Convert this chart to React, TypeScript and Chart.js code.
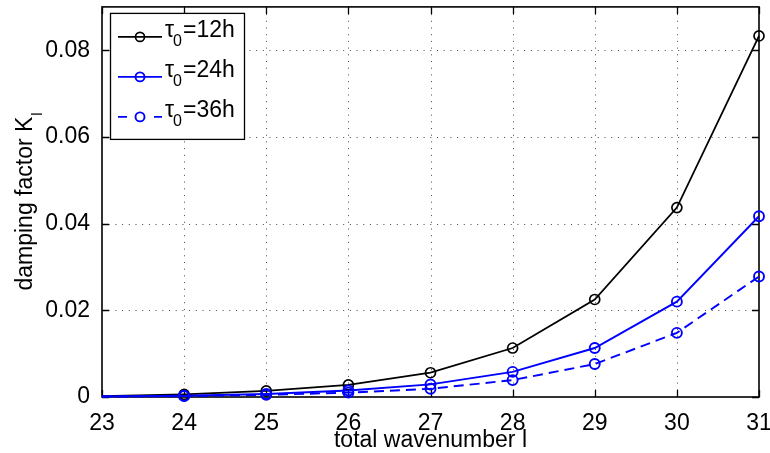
import { useEffect, useRef } from "react";
import { Chart, registerables } from "chart.js";

Chart.register(...registerables);

// Total wavenumber l and damping factor K_l for three relaxation times tau_0
const wavenumbers = [23, 24, 25, 26, 27, 28, 29, 30, 31];
const dampingTau12 = [0.0002, 0.0006, 0.0014, 0.0028, 0.0056, 0.0113, 0.0225, 0.0437, 0.0833];
const dampingTau24 = [0.0001, 0.0003, 0.0007, 0.0015, 0.0029, 0.0058, 0.0113, 0.022, 0.0417];
const dampingTau36 = [0.0001, 0.0002, 0.0005, 0.001, 0.0019, 0.0039, 0.0076, 0.0148, 0.0278];
const tauValues = ["12h", "24h", "36h"];

const xTickValues = [23, 24, 25, 26, 27, 28, 29, 30, 31];
const yTickValues = [0, 0.02, 0.04, 0.06, 0.08];
const xRange = [23, 31];
const yRange = [0, 0.09];

const xTitle = "total wavenumber l";
const yTitleMain = "damping factor K";
const yTitleSub = "l";

const FONT = '"Liberation Sans", Arial, Helvetica, sans-serif';
const FONT_SIZE = 23;
const BLUE = "#0000ff";

const toPoints = (ys: number[]) => wavenumbers.map((x, i) => ({ x, y: ys[i] }));

// Axes box, dotted grid and inward tick marks in the classic plotting style,
// plus the axis titles and a boxed legend with subscripted labels.
const framePlugin = {
  id: "frame",
  beforeDatasetsDraw(chart: any) {
    const { ctx, chartArea: a, scales } = chart;
    const xs = scales.x;
    const ys = scales.y;
    ctx.save();

    // dotted grid
    ctx.strokeStyle = "rgba(40,40,40,0.85)";
    ctx.lineWidth = 1;
    ctx.setLineDash([1, 5.7]);
    xTickValues.forEach((v) => {
      if (v === xRange[0] || v === xRange[1]) return;
      const px = Math.round(xs.getPixelForValue(v)) + 0.5;
      ctx.beginPath();
      ctx.moveTo(px, a.bottom);
      ctx.lineTo(px, a.top);
      ctx.stroke();
    });
    yTickValues.forEach((v) => {
      if (v === yRange[0] || v === yRange[1]) return;
      const py = Math.round(ys.getPixelForValue(v)) + 0.5;
      ctx.beginPath();
      ctx.moveTo(a.left, py);
      ctx.lineTo(a.right, py);
      ctx.stroke();
    });
    ctx.setLineDash([]);

    // inward ticks
    const tl = 7;
    ctx.strokeStyle = "#000";
    ctx.lineWidth = 1.3;
    xTickValues.forEach((v) => {
      const px = Math.round(xs.getPixelForValue(v)) + 0.5;
      ctx.beginPath();
      ctx.moveTo(px, a.bottom);
      ctx.lineTo(px, a.bottom - tl);
      ctx.moveTo(px, a.top);
      ctx.lineTo(px, a.top + tl);
      ctx.stroke();
    });
    yTickValues.forEach((v) => {
      const py = Math.round(ys.getPixelForValue(v)) + 0.5;
      ctx.beginPath();
      ctx.moveTo(a.left, py);
      ctx.lineTo(a.left + tl, py);
      ctx.moveTo(a.right, py);
      ctx.lineTo(a.right - tl, py);
      ctx.stroke();
    });

    // axes box
    ctx.lineWidth = 1.6;
    ctx.strokeRect(a.left, a.top, a.right - a.left, a.bottom - a.top);
    ctx.restore();
  },
  afterDraw(chart: any) {
    const { ctx, chartArea: a } = chart;
    ctx.save();
    ctx.fillStyle = "#000";

    // x title
    ctx.font = `${FONT_SIZE}px ${FONT}`;
    ctx.textAlign = "center";
    ctx.textBaseline = "alphabetic";
    ctx.fillText(xTitle, (a.left + a.right) / 2, 446.5);

    // y title, rotated, with subscript
    ctx.textAlign = "left";
    ctx.font = `${FONT_SIZE}px ${FONT}`;
    const wMain = ctx.measureText(yTitleMain).width;
    ctx.font = `15px ${FONT}`;
    const wSub = ctx.measureText(yTitleSub).width;
    ctx.save();
    ctx.translate(32, (a.top + a.bottom) / 2);
    ctx.rotate(-Math.PI / 2);
    const start = -(wMain + wSub) / 2;
    ctx.font = `${FONT_SIZE}px ${FONT}`;
    ctx.fillText(yTitleMain, start, 0);
    ctx.font = `15px ${FONT}`;
    ctx.fillText(yTitleSub, start + wMain + 1, 10);
    ctx.restore();

    // legend
    const bx = a.left + 8.5;
    const by = a.top + 6.5;
    const bw = 134;
    const bh = 126;
    ctx.fillStyle = "#fff";
    ctx.fillRect(bx, by, bw, bh);
    ctx.strokeStyle = "#000";
    ctx.lineWidth = 1.3;
    ctx.strokeRect(bx, by, bw, bh);

    chart.data.datasets.forEach((ds: any, i: number) => {
      const rowY = by + 23.5 + i * 40;
      const x0 = bx + 7.5;
      const x1 = x0 + 44;
      const xm = (x0 + x1) / 2;
      ctx.strokeStyle = ds.borderColor;
      ctx.lineWidth = ds.borderWidth;
      ctx.setLineDash([]);
      ctx.beginPath();
      if (ds.borderDash && ds.borderDash.length) {
        ctx.moveTo(x0, rowY);
        ctx.lineTo(x0 + 9, rowY);
        ctx.moveTo(x1 - 8, rowY);
        ctx.lineTo(x1, rowY);
      } else {
        ctx.moveTo(x0, rowY);
        ctx.lineTo(x1, rowY);
      }
      ctx.stroke();
      ctx.lineWidth = ds.pointBorderWidth;
      ctx.beginPath();
      ctx.arc(xm, rowY, 4.5, 0, Math.PI * 2);
      ctx.stroke();

      ctx.fillStyle = "#000";
      let tx = x1 + 3;
      ctx.font = `${FONT_SIZE}px ${FONT}`;
      ctx.fillText("τ", tx, rowY);
      tx += ctx.measureText("τ").width - 1;
      ctx.font = `16px ${FONT}`;
      ctx.fillText("0", tx, rowY + 9);
      tx += ctx.measureText("0").width + 1;
      ctx.font = `${FONT_SIZE}px ${FONT}`;
      ctx.fillText("=" + tauValues[i], tx, rowY);
    });
    ctx.restore();
  },
};

const pointRadius = (c: any) => (c.dataIndex === 0 ? 0 : 5);

export default function App() {
  const canvasRef = useRef<HTMLCanvasElement | null>(null);

  useEffect(() => {
    const canvas = canvasRef.current;
    if (!canvas) return;
    const chart = new Chart(canvas, {
      type: "line",
      data: {
        datasets: [
          {
            label: "τ0=" + tauValues[0],
            data: toPoints(dampingTau12),
            borderColor: "#000",
            borderWidth: 1.8,
            pointBorderColor: "#000",
            pointBackgroundColor: "rgba(0,0,0,0)",
            pointBorderWidth: 1.7,
            pointRadius,
            order: 3,
          },
          {
            label: "τ0=" + tauValues[1],
            data: toPoints(dampingTau24),
            borderColor: BLUE,
            borderWidth: 1.9,
            pointBorderColor: BLUE,
            pointBackgroundColor: "rgba(0,0,0,0)",
            pointBorderWidth: 1.9,
            pointRadius,
            order: 2,
          },
          {
            label: "τ0=" + tauValues[2],
            data: toPoints(dampingTau36),
            borderColor: BLUE,
            borderWidth: 1.9,
            borderDash: [10, 6],
            pointBorderColor: BLUE,
            pointBackgroundColor: "rgba(0,0,0,0)",
            pointBorderWidth: 1.9,
            pointRadius,
            order: 1,
          },
        ],
      },
      options: {
        responsive: false,
        maintainAspectRatio: false,
        animation: false,
        devicePixelRatio: 1,
        clip: false as any,
        elements: { line: { tension: 0 } },
        layout: { padding: { left: 0, right: 11, top: 3, bottom: 0 } },
        plugins: { legend: { display: false }, tooltip: { enabled: false } },
        scales: {
          x: {
            type: "linear",
            min: xRange[0],
            max: xRange[1],
            grid: { display: false },
            border: { display: false },
            afterBuildTicks: (s: any) => {
              s.ticks = xTickValues.map((v) => ({ value: v }));
            },
            afterFit: (s: any) => {
              s.height = 56;
              s.paddingLeft = 0;
              s.paddingRight = 0;
            },
            ticks: {
              color: "#000",
              font: { family: FONT, size: FONT_SIZE },
              padding: 5,
              maxRotation: 0,
              autoSkip: false,
              callback: (v: any) => String(v),
            },
          },
          y: {
            type: "linear",
            min: yRange[0],
            max: yRange[1],
            grid: { display: false },
            border: { display: false },
            afterBuildTicks: (s: any) => {
              s.ticks = yTickValues.map((v) => ({ value: v }));
            },
            afterFit: (s: any) => {
              s.width = 102;
              s.paddingTop = 0;
              s.paddingBottom = 0;
            },
            ticks: {
              color: "#000",
              font: { family: FONT, size: FONT_SIZE },
              padding: 4,
              autoSkip: false,
              callback: (v: any) => (Number(v) === 0 ? "0" : Number(v).toFixed(2)),
            },
          },
        },
      },
      plugins: [framePlugin],
    });
    return () => chart.destroy();
  }, []);

  return (
    <div style={{ position: "fixed", left: 0, top: 0, width: 770, height: 453, background: "#fff" }}>
      <canvas ref={canvasRef} width={770} height={453} style={{ display: "block" }} />
    </div>
  );
}
